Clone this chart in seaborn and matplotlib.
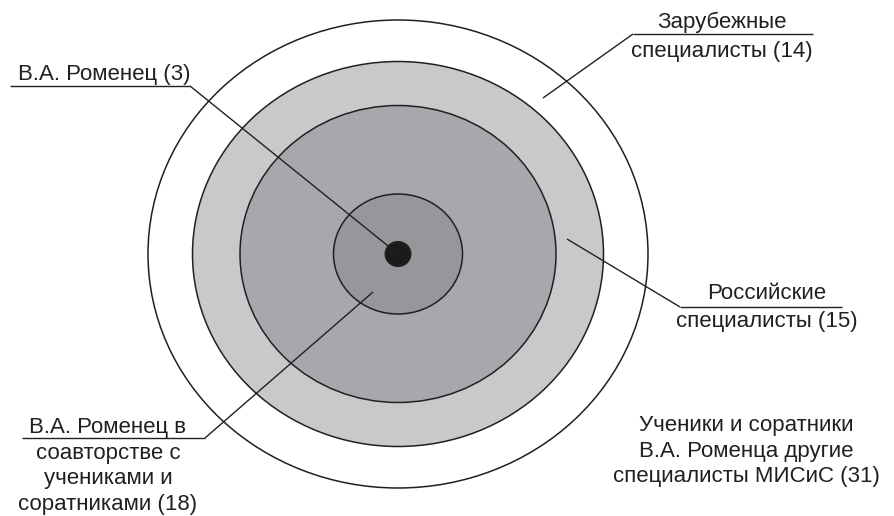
import matplotlib
matplotlib.use("Agg")
import matplotlib.pyplot as plt
from matplotlib.patches import Ellipse
import seaborn as sns

# ---------------- data ----------------
# groups from the outer ring inwards
label_lines = [
    ["Ученики и соратники", "В.А. Роменца другие", "специалисты МИСиС"],
    ["Зарубежные", "специалисты"],
    ["Российские", "специалисты"],
    ["В.А. Роменец в", "соавторстве с", "учениками и", "соратниками"],
    ["В.А. Роменец"],
]
counts = [31, 14, 15, 18, 3]

# ---------------- layout (pixels) ----------------
center = (398, 254)
ring_rx = [250, 205.5, 158, 64.5, 12.7]
ring_ry = [234, 192.5, 148.5, 60, 12.3]
ring_colors = ["#ffffff", "#c8c9cb", "#a7a8ac", "#96979b", "#1c1a1b"]

# text centre x, first baseline y, line step
text_pos = [(746, 431, 25.5), (722, 28, 29), (767, 299, 28), (108, 433, 25.7), (104, 80, 0)]
# underline (x0, x1, y) and pointer end, None = no leader
leaders = [
    None,
    ((633, 813, 34), (543, 98)),
    ((680, 842, 307), (567, 239)),
    ((22, 205, 438), (373, 292)),
    ((10, 190, 86), (398, 254)),
]

ink = "#231f20"

sns.set_theme(style="white")
plt.rcParams['font.family'] = ['Liberation Sans', 'DejaVu Sans']

fig = plt.figure(figsize=(8.95, 5.16), dpi=100)
ax = fig.add_axes([0, 0, 1, 1])
ax.set_xlim(0, 895)
ax.set_ylim(516, 0)
ax.axis('off')

# rings
for i, (rx, ry, col) in enumerate(zip(ring_rx, ring_ry, ring_colors)):
    ax.add_patch(Ellipse(center, 2 * rx, 2 * ry, facecolor=col,
                         edgecolor=ink, linewidth=1.1, zorder=1 + i))

# leaders
for ld in leaders:
    if ld is None:
        continue
    (x0, x1, y), (px, py) = ld
    # join point is the end of the underline nearest the circle
    jx = x0 if abs(x0 - center[0]) < abs(x1 - center[0]) else x1
    ax.plot([x0, x1], [y, y], color=ink, lw=1.0, zorder=10, solid_capstyle='butt')
    ax.plot([jx, px], [y, py], color=ink, lw=1.0, zorder=10, solid_capstyle='butt')

# labels
for lines, n, (cx, by, step) in zip(label_lines, counts, text_pos):
    lines = lines[:-1] + [f"{lines[-1]} ({n})"]
    for k, line in enumerate(lines):
        ax.text(cx, by + k * step, line, ha='center', va='baseline',
                fontsize=16, color=ink, zorder=11)

fig.savefig("out.png", dpi=100)
